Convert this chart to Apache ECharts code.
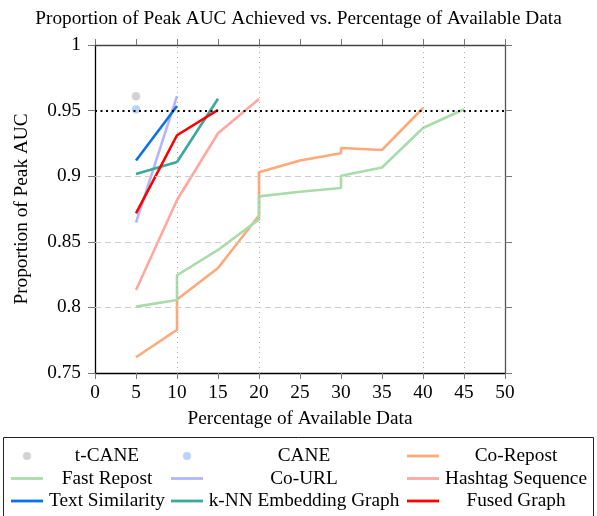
<!DOCTYPE html>
<html>
<head>
<meta charset="utf-8">
<script src="https://cdn.jsdelivr.net/npm/echarts@6/dist/echarts.min.js"></script>
<style>html,body{margin:0;padding:0;background:#fff;}#c{width:597px;height:516px;}</style>
</head>
<body>
<div id="c"></div>
<script>
const FONT = '"Liberation Serif", "DejaVu Serif", serif';
const FS = 19.3;

const titleText = 'Proportion of Peak AUC Achieved vs. Percentage of Available Data';
const xName = 'Percentage of Available Data';
const yName = 'Proportion of Peak AUC';

const xMin = 0, xMax = 50, xStep = 5;
const yMin = 0.75, yMax = 1, yStep = 0.05;
const threshold = 0.95;
const xGridMarks = [10, 20, 40, 45];
const yGridMarks = [0.8, 0.85, 0.9];

const tCaneX = [5];
const tCaneY = [0.961];
const caneX = [5];
const caneY = [0.951];
const coRepostX = [5, 10, 10, 15, 20, 20, 25, 30, 30, 35, 40];
const coRepostY = [0.762, 0.783, 0.806, 0.830, 0.870, 0.903, 0.912, 0.9175, 0.9215, 0.920, 0.952];
const fastRepostX = [5, 10, 10, 15, 20, 20, 25, 30, 30, 35, 40, 45];
const fastRepostY = [0.8006, 0.8056, 0.8245, 0.8438, 0.8671, 0.8846, 0.8882, 0.891, 0.9004, 0.9066, 0.9367, 0.951];
const coUrlX = [5, 10];
const coUrlY = [0.8646, 0.961];
const hashtagX = [5, 10, 15, 20];
const hashtagY = [0.8133, 0.8819, 0.9327, 0.9588];
const textSimX = [5, 10];
const textSimY = [0.912, 0.9535];
const knnX = [5, 10, 15];
const knnY = [0.9017, 0.9108, 0.959];
const fusedX = [5, 10, 15];
const fusedY = [0.8717, 0.9312, 0.9505];

const legendCol1 = ['t-CANE', 'Fast Repost', 'Text Similarity'];
const legendCol2 = ['CANE', 'Co-URL', 'k-NN Embedding Graph'];
const legendCol3 = ['Co-Repost', 'Hashtag Sequence', 'Fused Graph'];
const dotNames = ['t-CANE', 'CANE'];

const LINE_ICON = 'path://M0,0M0,2.6h32v2.8h-32zM32,8';

function pairs(xs, ys) { return xs.map((x, i) => [x, ys[i]]); }

function lineSeries(name, xs, ys, color) {
  return {
    name: name, type: 'line', data: pairs(xs, ys),
    symbol: 'none', showSymbol: false,
    lineStyle: { color: color, width: 2.6 },
    itemStyle: { color: color },
    emphasis: { disabled: true }, animation: false
  };
}
function dotSeries(name, xs, ys, color) {
  return {
    name: name, type: 'scatter', data: pairs(xs, ys),
    symbol: 'circle', symbolSize: 8.5,
    itemStyle: { color: color },
    emphasis: { disabled: true }, animation: false
  };
}

function legendFor(names, left, textWidth) {
  return {
    orient: 'vertical', left: left, top: 446.5, height: 120, padding: 0,
    data: names.map(n => dotNames.indexOf(n) >= 0 ? { name: n } : { name: n, icon: LINE_ICON }),
    itemWidth: 32, itemHeight: 8, itemGap: 3.5,
    selectedMode: false,
    itemStyle: { borderWidth: 0 },
    formatter: n => '{a|' + n + '}',
    textStyle: {
      rich: { a: { width: textWidth, align: 'center', fontFamily: FONT, fontSize: FS, color: '#000' } }
    }
  };
}

const axisBase = { type: 'value', min: xMin, max: xMax, interval: xStep };

const chart = echarts.init(document.getElementById('c'), null, { renderer: 'canvas' });
chart.setOption({
  animation: false,
  backgroundColor: '#fff',
  title: {
    text: titleText, left: 'center', top: 4,
    textStyle: { fontFamily: FONT, fontSize: FS, fontWeight: 'normal', color: '#000' }
  },
  grid: { left: 95, right: 92, top: 45, bottom: 143, containLabel: false },
  legend: [
    legendFor(legendCol1, 11, 118),
    legendFor(legendCol2, 171, 192),
    legendFor(legendCol3, 407, 144)
  ],
  graphic: [{
    type: 'rect', shape: { x: 3.5, y: 437.5, width: 590, height: 100 },
    style: { fill: 'none', stroke: '#222', lineWidth: 1 }, silent: true
  }],
  xAxis: [
    Object.assign({}, axisBase, {
      position: 'bottom',
      name: xName, nameLocation: 'middle', nameGap: 36,
      nameTextStyle: { fontFamily: FONT, fontSize: FS, color: '#000' },
      axisLine: { show: true, onZero: false, lineStyle: { color: '#000', width: 1.3 } },
      axisTick: { show: true, length: 6, lineStyle: { color: '#777' } },
      axisLabel: { fontFamily: FONT, fontSize: FS, color: '#000', margin: 10 },
      splitLine: { show: false }
    }),
    Object.assign({}, axisBase, {
      position: 'top',
      axisLine: { show: true, onZero: false, lineStyle: { color: '#444', width: 1.3 } },
      axisTick: { show: true, length: 6, lineStyle: { color: '#777' } },
      axisLabel: { show: false },
      splitLine: { show: false }
    })
  ],
  yAxis: [
    {
      type: 'value', min: yMin, max: yMax, interval: yStep, position: 'left',
      name: yName, nameLocation: 'middle', nameGap: 63.5,
      nameTextStyle: { fontFamily: FONT, fontSize: FS, color: '#000' },
      axisLine: { show: true, onZero: false, lineStyle: { color: '#000', width: 1.3 } },
      axisTick: { show: true, length: 7, lineStyle: { color: '#777' } },
      axisLabel: { fontFamily: FONT, fontSize: FS, color: '#000', margin: 14 },
      splitLine: { show: false }
    },
    {
      type: 'value', min: yMin, max: yMax, interval: yStep, position: 'right',
      axisLine: { show: true, onZero: false, lineStyle: { color: '#555', width: 1.3 } },
      axisTick: { show: true, length: 7, lineStyle: { color: '#777' } },
      axisLabel: { show: false },
      splitLine: { show: false }
    }
  ],
  series: [
    {
      name: '_grid', type: 'line', data: [], silent: true, animation: false,
      markLine: {
        silent: true, symbol: 'none', label: { show: false }, animation: false,
        data: [].concat(
          xGridMarks.map(v => ({ xAxis: v, lineStyle: { color: '#aaa', type: [1, 4], width: 1 } })),
          yGridMarks.map(v => ({ yAxis: v, lineStyle: { color: '#ccc', type: [6, 4], width: 1 } })),
          [{ yAxis: threshold, lineStyle: { color: '#000', type: [2, 3.5], width: 1.8 } }]
        )
      }
    },
    dotSeries('t-CANE', tCaneX, tCaneY, '#c8c8c8'),
    dotSeries('CANE', caneX, caneY, '#a9c8f8'),
    lineSeries('Co-Repost', coRepostX, coRepostY, '#ffa878'),
    lineSeries('Fast Repost', fastRepostX, fastRepostY, '#a8dca8'),
    lineSeries('Co-URL', coUrlX, coUrlY, '#b4b4ff'),
    lineSeries('Hashtag Sequence', hashtagX, hashtagY, '#ffa8a0'),
    lineSeries('Text Similarity', textSimX, textSimY, '#0a72e8'),
    lineSeries('k-NN Embedding Graph', knnX, knnY, '#3aa89c'),
    lineSeries('Fused Graph', fusedX, fusedY, '#ff0000')
  ]
});
</script>
</body>
</html>
